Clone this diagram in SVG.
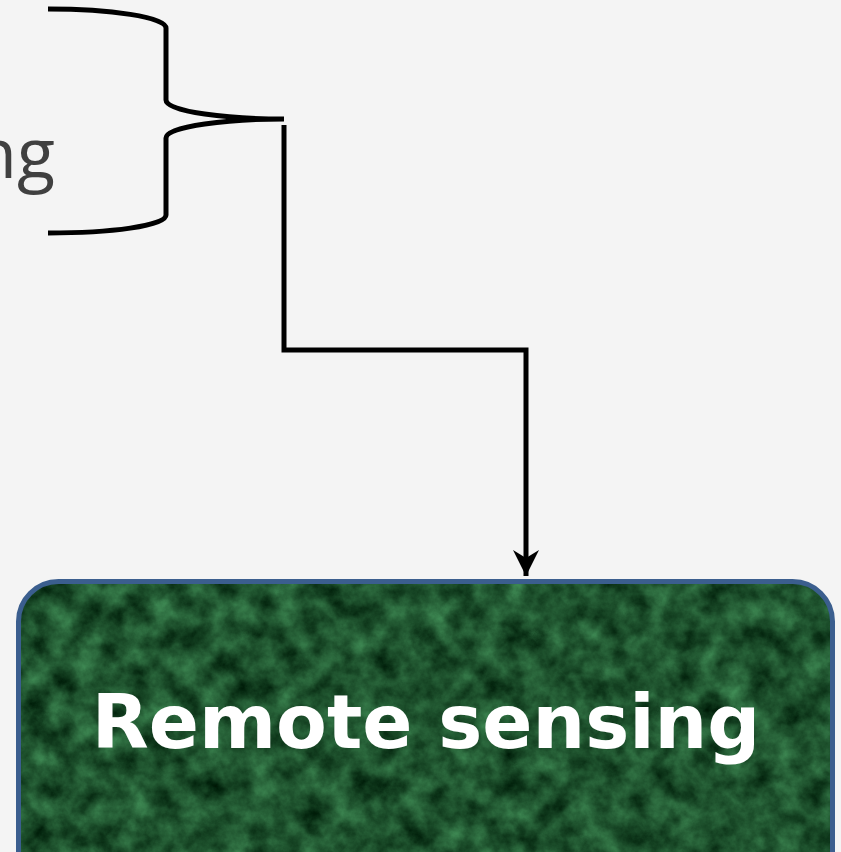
<svg xmlns="http://www.w3.org/2000/svg" width="841" height="852" viewBox="0 0 841 852">
  <style>
    .line { fill: none; stroke: #000; stroke-width: 5; stroke-linejoin: miter; }
    .label { font-family: "Open Sans", "Noto Sans", sans-serif; fill: #404040; }
    .title { font-family: "DejaVu Sans", Verdana, sans-serif; font-weight: bold; fill: #ffffff; }
  </style>
  <defs>
    <marker id="arrow" markerUnits="userSpaceOnUse" markerWidth="30" markerHeight="30" viewBox="0 0 30 30" refX="28" refY="15" orient="auto">
      <path d="M2,2 L28,15 L2,28 L10,15 Z" fill="#000"/>
    </marker>
    <filter id="marble" filterUnits="userSpaceOnUse" x="0" y="570" width="841" height="300" color-interpolation-filters="sRGB">
      <feTurbulence type="fractalNoise" baseFrequency="0.04" numOctaves="5" seed="7" result="n"/>
      <feColorMatrix in="n" type="matrix" values="0.32 0 0 0 -0.04  0.55 0 0 0 0.05  0.38 0 0 0 -0.01  0 0 0 0 1"/>
    </filter>
    <clipPath id="boxClip">
      <rect x="18" y="581" width="815" height="320" rx="40" ry="40"/>
    </clipPath>
  </defs>
  <rect x="0" y="0" width="841" height="852" fill="#f4f4f4"/>

  <g id="node-left-label">
    <text class="label" x="55" y="178" font-size="70" text-anchor="end">ng</text>
  </g>

  <g id="brace">
    <path class="line" d="M48,9 C110,9 166,17 166,28 L166,100 C166,112 230,119 284,119 C230,119 166,126 166,138 L166,215 C166,226 110,233 48,233"/>
  </g>

  <g id="connectors">
    <path class="line" d="M284,125 L284,350 L526,350 L526,576" marker-end="url(#arrow)"/>
  </g>

  <g id="node-remote-sensing">
    <g clip-path="url(#boxClip)">
      <rect x="0" y="570" width="841" height="300" fill="#1c5a32" filter="url(#marble)"/>
    </g>
    <rect x="18.5" y="581.5" width="814" height="320" rx="40" ry="40" fill="none" stroke="#3b5e8e" stroke-width="5"/>
    <text class="title" x="426" y="748" font-size="74" text-anchor="middle">Remote sensing</text>
  </g>
</svg>
